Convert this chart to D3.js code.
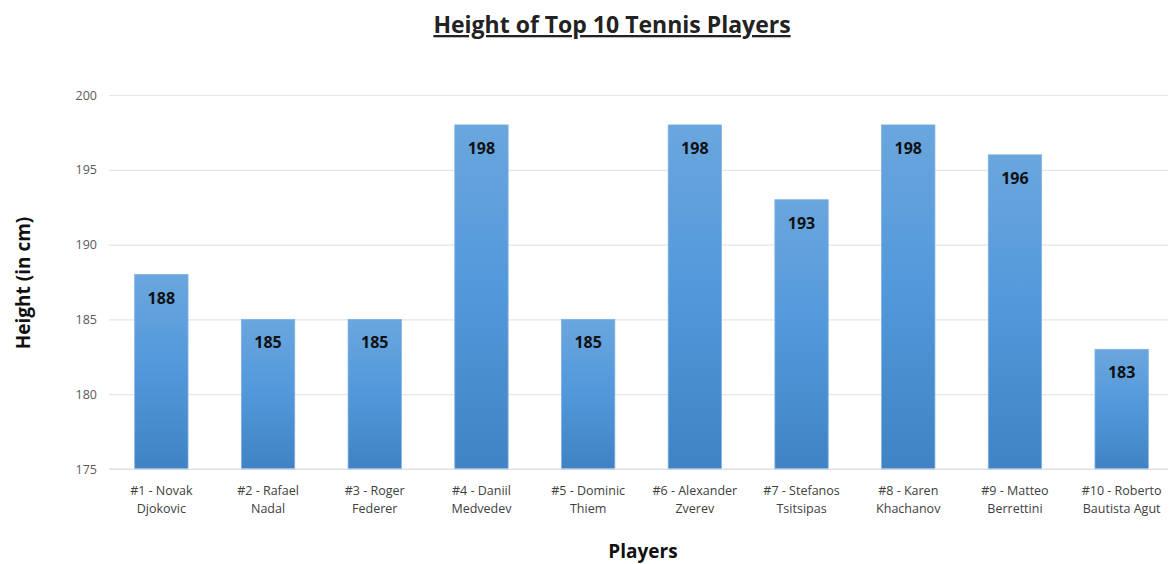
<!DOCTYPE html>
<html>
<head>
<meta charset="utf-8">
<script src="https://cdn.jsdelivr.net/npm/d3@7"></script>
<style>
  html, body { margin: 0; padding: 0; background: #fff; }
  svg { display: block; font-family: "Open Sans", "Liberation Sans", sans-serif; }
</style>
</head>
<body>
<svg id="chart" width="1172" height="564"></svg>
<script>
// Player names (two lines each) and heights in cm
const playerLine1 = ["#1 - Novak", "#2 - Rafael", "#3 - Roger", "#4 - Daniil", "#5 - Dominic",
                     "#6 - Alexander", "#7 - Stefanos", "#8 - Karen", "#9 - Matteo", "#10 - Roberto"];
const playerLine2 = ["Djokovic", "Nadal", "Federer", "Medvedev", "Thiem",
                     "Zverev", "Tsitsipas", "Khachanov", "Berrettini", "Bautista Agut"];
const heights = [188, 185, 185, 198, 185, 198, 193, 198, 196, 183];
const yTicks = [175, 180, 185, 190, 195, 200];

const svg = d3.select("#chart");
const W = 1172, H = 564;
const plot = { left: 109, right: 1168, top: 95, bottom: 469 };

const x = d3.scaleBand()
  .domain(d3.range(heights.length))
  .range([108, 1175])
  .paddingInner(0.5).paddingOuter(0.25);

const y = d3.scaleLinear().domain([175, 200]).range([plot.bottom, plot.top]);

// bar gradient
const defs = svg.append("defs");
const grad = defs.append("linearGradient").attr("id", "barGrad")
  .attr("x1", 0).attr("y1", 0).attr("x2", 0).attr("y2", 1);
grad.append("stop").attr("offset", "0%").attr("stop-color", "#6aa6de");
grad.append("stop").attr("offset", "45%").attr("stop-color", "#5499db");
grad.append("stop").attr("offset", "100%").attr("stop-color", "#3f83c4");

// gridlines
const yAxis = d3.axisLeft(y).tickValues(yTicks).tickSize(-(plot.right - plot.left)).tickPadding(12);
const gy = svg.append("g").attr("transform", `translate(${plot.left},0)`).call(yAxis);
gy.select(".domain").remove();
gy.selectAll(".tick line").attr("stroke", "#e3e6ea").attr("stroke-width", 1.2);
gy.selectAll(".tick text").attr("fill", "#595959").style("font-size", "12.5px")
  .attr("font-family", "Open Sans, Liberation Sans, sans-serif");

// bars
svg.append("g").selectAll("rect").data(heights).join("rect")
  .attr("x", (d, i) => x(i))
  .attr("y", d => y(d))
  .attr("width", x.bandwidth())
  .attr("height", d => y(175) - y(d))
  .attr("fill", "url(#barGrad)")
  .attr("stroke", "#7fb2e3").attr("stroke-width", 0.8);

// value labels
svg.append("g").selectAll("text").data(heights).join("text")
  .attr("x", (d, i) => x(i) + x.bandwidth() / 2)
  .attr("y", d => y(d) + 29)
  .attr("text-anchor", "middle")
  .attr("fill", "#111")
  .style("font-size", "16px").style("font-weight", "bold")
  .text(d => d);

// baseline
svg.append("line")
  .attr("x1", plot.left).attr("x2", plot.right)
  .attr("y1", y(175)).attr("y2", y(175))
  .attr("stroke", "#d9dde2").attr("stroke-width", 1.2);

// category labels
const cat = svg.append("g").selectAll("text").data(heights).join("text")
  .attr("text-anchor", "middle")
  .attr("fill", "#404040")
  .style("font-size", "12.5px");
cat.append("tspan")
  .attr("x", (d, i) => x(i) + x.bandwidth() / 2).attr("y", 495)
  .text((d, i) => playerLine1[i]);
cat.append("tspan")
  .attr("x", (d, i) => x(i) + x.bandwidth() / 2).attr("y", 513)
  .text((d, i) => playerLine2[i]);

// title
svg.append("text")
  .attr("x", 612).attr("y", 33)
  .attr("text-anchor", "middle")
  .attr("fill", "#222")
  .style("font-size", "23px").style("font-weight", "bold")
  .style("text-decoration", "underline")
  .text("Height of Top 10 Tennis Players");

// axis titles
svg.append("text")
  .attr("x", 643).attr("y", 558)
  .attr("text-anchor", "middle").attr("fill", "#111")
  .style("font-size", "19px").style("font-weight", "bold")
  .text("Players");

svg.append("text")
  .attr("transform", "translate(30,283) rotate(-90)")
  .attr("text-anchor", "middle").attr("fill", "#111")
  .style("font-size", "19px").style("font-weight", "bold")
  .text("Height (in cm)");
</script>
</body>
</html>
